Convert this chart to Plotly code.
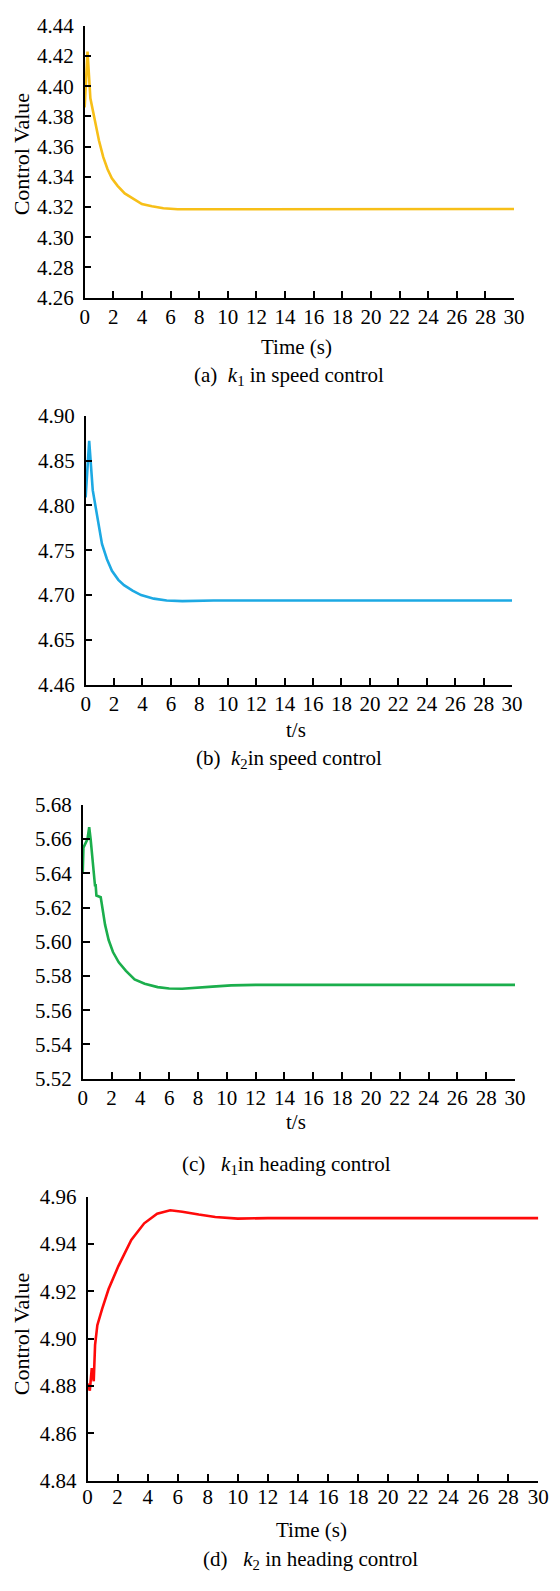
import plotly.graph_objects as go

# ---- data ----
# (a) k1 in speed control
t_a = [0, 0.2, 0.4, 0.7, 1.0, 1.3, 1.6, 1.9, 2.3, 2.8, 3.3, 4.0, 4.7, 5.5, 6.5, 7.5, 8.5, 10, 30]
k1_speed = [4.386, 4.423, 4.392, 4.378, 4.364, 4.353, 4.345, 4.339, 4.334, 4.329, 4.326, 4.322,
            4.3205, 4.3192, 4.3185, 4.3185, 4.3187, 4.3187, 4.3187]

# (b) k2 in speed control
t_b = [0, 0.25, 0.5, 0.8, 1.15, 1.5, 1.85, 2.3, 2.7, 3.3, 3.9, 4.8, 5.7, 6.8, 8.0, 9.0, 30]
k2_speed = [4.809, 4.872, 4.817, 4.790, 4.757, 4.740, 4.727, 4.717, 4.711, 4.705, 4.700, 4.696,
            4.694, 4.6932, 4.6935, 4.694, 4.694]

# (c) k1 in heading control
t_c = [0, 0.05, 0.33, 0.45, 0.55, 0.7, 0.85, 0.9, 0.95, 1.25, 1.35, 1.55, 1.8, 2.1, 2.5, 3.0,
       3.6, 4.3, 5.2, 6.0, 6.9, 8.0, 9.0, 10.3, 12.0, 30]
k1_heading = [5.640, 5.655, 5.660, 5.667, 5.660, 5.645, 5.633, 5.633, 5.627, 5.626, 5.620, 5.610,
              5.601, 5.594, 5.588, 5.583, 5.578, 5.5755, 5.5735, 5.5727, 5.5725, 5.5730, 5.5738,
              5.5745, 5.5748, 5.5748]

# (d) k2 in heading control
t_d = [0, 0.15, 0.28, 0.41, 0.50, 0.65, 0.97, 1.40, 2.05, 2.91, 3.77, 4.63, 5.5, 6.3, 7.4, 8.5,
       10.0, 12.0, 30]
k2_heading = [4.881, 4.878, 4.8875, 4.882, 4.8974, 4.9057, 4.9126, 4.921, 4.9307, 4.9418, 4.9488,
              4.9529, 4.9543, 4.9537, 4.9525, 4.9515, 4.9508, 4.951, 4.951]

# axis ticks
x_ticks = list(range(0, 31, 2))
y_ticks_a = [4.26, 4.28, 4.30, 4.32, 4.34, 4.36, 4.38, 4.40, 4.42, 4.44]
y_ticks_b = [4.60, 4.65, 4.70, 4.75, 4.80, 4.85, 4.90]
y_text_b = ["4.46", "4.65", "4.70", "4.75", "4.80", "4.85", "4.90"]
y_ticks_c = [5.52, 5.54, 5.56, 5.58, 5.60, 5.62, 5.64, 5.66, 5.68]
y_ticks_d = [4.84, 4.86, 4.88, 4.90, 4.92, 4.94, 4.96]

W, H = 560, 1591
FONT = "Liberation Serif"
TICK_FS = 21
TEXT_FS = 21


def px_x(v):
    return v / W


def px_y(v):
    return 1 - v / H


# panel boxes in pixels: (left, right, top, bottom) and x tick-label offset
boxes = [
    (82, 524, 14, 290, -1),
    (83, 522, 410, 683, -1),
    (80, 525, 805, 1083, -1),
    (85, 549, 1203, 1491, -4),
]

panels = [
    (t_a, k1_speed, "#F7BF18", y_ticks_a, [f"{v:.2f}" for v in y_ticks_a]),
    (t_b, k2_speed, "#1DA9E3", y_ticks_b, y_text_b),
    (t_c, k1_heading, "#1BAE4C", y_ticks_c, [f"{v:.2f}" for v in y_ticks_c]),
    (t_d, k2_heading, "#FF0A0A", y_ticks_d, [f"{v:.2f}" for v in y_ticks_d]),
]

fig = go.Figure()
layout = dict(
    width=W, height=H,
    margin=dict(l=0, r=0, t=0, b=0),
    paper_bgcolor="white", plot_bgcolor="white",
    showlegend=False,
    font=dict(family=FONT, size=TEXT_FS, color="black"),
)

axis_common = dict(
    showline=True, linecolor="black", linewidth=1.6,
    ticks="inside", ticklen=7, tickwidth=1.6, tickcolor="black",
    showgrid=False, zeroline=False,
    tickfont=dict(family=FONT, size=TICK_FS, color="black"),
)

for i, ((l, r, t, b, xoff), (tx, ty, col, yt, ytt)) in enumerate(zip(boxes, panels), start=1):
    xa = "x" if i == 1 else f"x{i}"
    ya = "y" if i == 1 else f"y{i}"
    fig.add_trace(go.Scatter(x=tx, y=ty, mode="lines", xaxis=xa, yaxis=ya,
                             line=dict(color=col, width=2.6)))
    layout["xaxis" if i == 1 else f"xaxis{i}"] = dict(
        axis_common, domain=[px_x(l), px_x(r)], range=[0, 30],
        tickvals=x_ticks, anchor=ya, ticklabelstandoff=xoff,
    )
    layout["yaxis" if i == 1 else f"yaxis{i}"] = dict(
        axis_common, domain=[px_y(b), px_y(t)], range=[yt[0], yt[-1]],
        tickvals=yt, ticktext=ytt, anchor=xa, ticklabelstandoff=5,
    )

fig.update_layout(**layout)

# axis titles and captions
texts = [
    ("Time (s)", 300, 340),
    ("(a)  <i>k</i><sub>1</sub> in speed control", 292, 370),
    ("t/s", 300, 729),
    ("(b)  <i>k</i><sub>2</sub>in speed control", 292, 758),
    ("t/s", 300, 1127),
    ("(c)   <i>k</i><sub>1</sub>in heading control", 290, 1171),
    ("Time (s)", 316, 1541),
    ("(d)   <i>k</i><sub>2</sub> in heading control", 314, 1572),
]
for txt, x, y in texts:
    fig.add_annotation(text=txt, x=px_x(x), y=px_y(y), xref="paper", yref="paper",
                       showarrow=False, xanchor="center", yanchor="middle",
                       font=dict(family=FONT, size=TEXT_FS, color="black"))

for y in (145, 1343):
    fig.add_annotation(text="Control Value", x=px_x(17), y=px_y(y), xref="paper", yref="paper",
                       showarrow=False, textangle=-90, xanchor="center", yanchor="middle",
                       font=dict(family=FONT, size=22, color="black"))

fig.write_html("out.html")
